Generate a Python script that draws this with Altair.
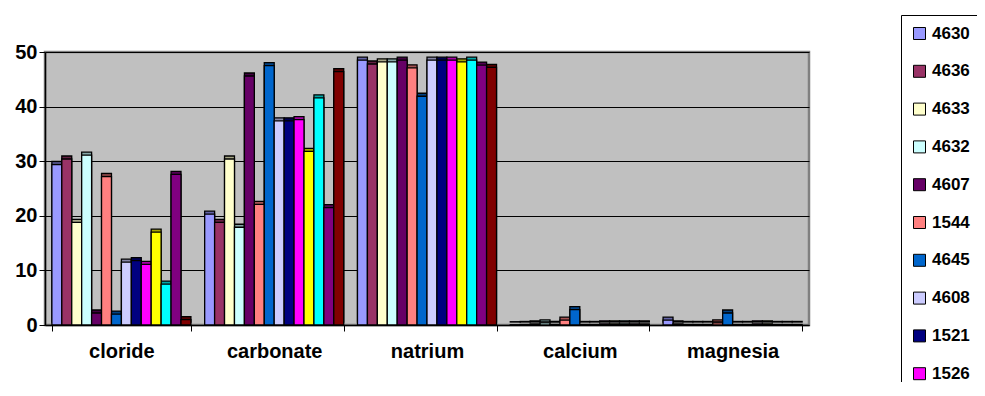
import altair as alt
import pandas as pd

categories = ["cloride", "carbonate", "natrium", "calcium", "magnesia"]
series = ["4630", "4636", "4633", "4632", "4607", "1544", "4645", "4608", "1521", "1526",
          "Series11", "Series12", "Series13", "Series14"]
colors = ["#9999FF", "#993366", "#FFFFCC", "#CCFFFF", "#660066", "#FF8080", "#0066CC",
          "#CCCCFF", "#000080", "#FF00FF", "#FFFF00", "#00FFFF", "#800080", "#800000"]

cloride = [29.4, 30.4, 18.8, 31.1, 2.2, 27.2, 2.0, 11.5, 11.8, 11.1, 17.0, 7.5, 27.6, 1.0]
carbonate = [20.3, 18.8, 30.4, 17.9, 45.6, 22.1, 47.5, 37.4, 37.4, 37.6, 31.8, 41.6, 21.5, 46.4]
natrium = [48.5, 47.8, 48.2, 48.2, 48.5, 47.1, 41.9, 48.5, 48.5, 48.5, 48.2, 48.5, 47.6, 47.2]
calcium = [0.05, 0.1, 0.2, 0.4, 0.1, 0.9, 2.8, 0.1, 0.1, 0.2, 0.2, 0.2, 0.2, 0.2]
magnesia = [0.9, 0.2, 0.1, 0.1, 0.1, 0.4, 2.2, 0.1, 0.1, 0.2, 0.2, 0.1, 0.1, 0.1]

values = [cloride, carbonate, natrium, calcium, magnesia]
rows = []
for c, vals in zip(categories, values):
    for s, v in zip(series, vals):
        rows.append({"category": c, "series": s, "value": v})
df = pd.DataFrame(rows)

FONT = "Liberation Sans"

x_enc = alt.X("category:N", sort=categories,
              scale=alt.Scale(paddingInner=0.09, paddingOuter=0.045),
              axis=alt.Axis(title=None, labelAngle=0, tickBand="extent", tickSize=6,
                            tickColor="black", domainColor="black", domainWidth=1.5,
                            labelFont=FONT, labelFontSize=20, labelFontWeight="bold",
                            labelColor="black", labelPadding=10, grid=False))
xo_enc = alt.XOffset("series:N", sort=series, scale=alt.Scale(paddingInner=0, paddingOuter=0))
y_enc = alt.Y("value:Q", scale=alt.Scale(domain=[0, 50], nice=False),
              axis=alt.Axis(title=None, values=[0, 10, 20, 30, 40, 50], tickSize=6,
                            tickColor="black", domainColor="black", domainWidth=1.5,
                            gridColor="black", gridWidth=1, labelFont=FONT,
                            labelFontSize=20, labelFontWeight="bold", labelColor="black",
                            labelPadding=2))
color_enc = alt.Color("series:N", sort=series,
                      scale=alt.Scale(domain=series, range=colors),
                      legend=alt.Legend(values=series[:10], title=None, orient="none",
                                        legendX=856, legendY=-37, strokeColor="black",
                                        fillColor="white", padding=10, rowPadding=19.8,
                                        symbolType="square", symbolSize=144,
                                        symbolStrokeColor="black", symbolStrokeWidth=1,
                                        labelFont=FONT, labelFontSize=17,
                                        labelFontWeight="bold", labelColor="black",
                                        labelOffset=4))

base = alt.Chart(df)
back = base.mark_bar(xOffset=3, yOffset=-3, stroke="black", strokeWidth=1.3).encode(
    x=x_enc, xOffset=xo_enc, y=y_enc, color=color_enc)
shade = base.mark_bar(xOffset=3, yOffset=-3, fillOpacity=0.35, strokeWidth=0).encode(
    x=x_enc, xOffset=xo_enc, y=y_enc, color=alt.value("black"))
front = base.mark_bar(stroke="black", strokeWidth=1.3).encode(
    x=x_enc, xOffset=xo_enc, y=y_enc, color=color_enc)

chart = alt.layer(back, shade, front).properties(
    width=764, height=273,
    autosize=alt.AutoSizeParams(type="none"),
    padding={"left": 37, "top": 44, "right": 168, "bottom": 57},
).configure_view(fill="#C0C0C0", stroke="#808080", strokeWidth=2.5)

chart.save("out.html", embed_options={"renderer": "svg", "actions": False})
